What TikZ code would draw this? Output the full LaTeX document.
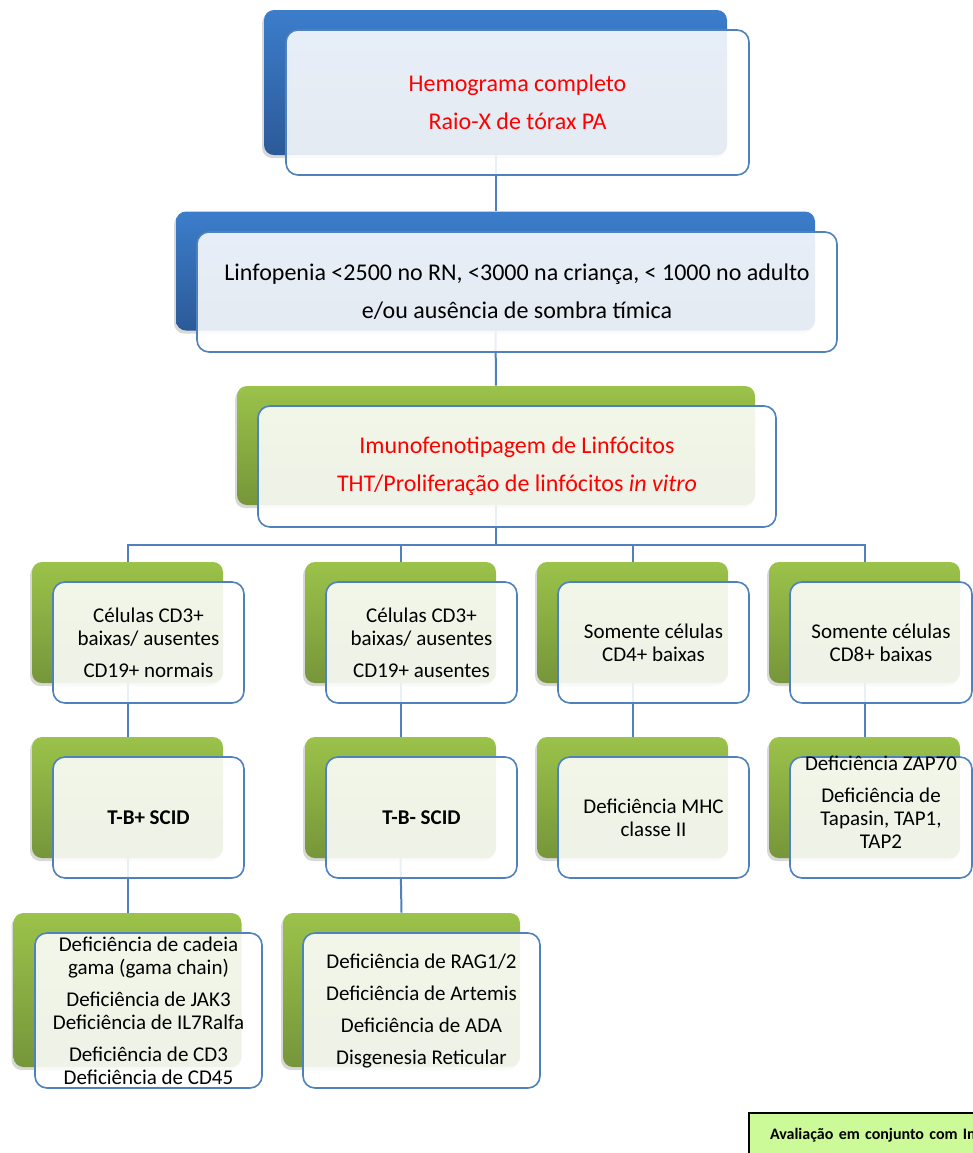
\documentclass[tikz,border=0pt]{standalone}
\usepackage{fontspec}
\setmainfont{Carlito}
\usepackage{tikz}
\usetikzlibrary{shadows,backgrounds}
\definecolor{linkblue}{HTML}{4F81BD}
\definecolor{bluetop}{HTML}{3C7DCB}
\definecolor{bluebot}{HTML}{2C5A98}
\definecolor{greentop}{HTML}{9BC24A}
\definecolor{greenbot}{HTML}{76963A}
\definecolor{notegreen}{HTML}{CCFA99}

\begin{document}
\begin{tikzpicture}[
    x=0.5pt, y=-0.5pt,
    back/.style={rectangle, rounded corners=5pt, draw=none,
                 drop shadow={shadow xshift=-1pt, shadow yshift=-1.5pt, opacity=0.3}},
    blueback/.style={back, top color=bluetop, bottom color=bluebot},
    greenback/.style={back, top color=greentop, bottom color=greenbot},
    front/.style={rectangle, rounded corners=6pt, draw=linkblue, line width=0.8pt,
                  fill=white, fill opacity=0.88, text opacity=1, align=center},
    bigtext/.style={font=\fontsize{12}{14.5}\selectfont},
    smalltext/.style={font=\fontsize{10.5}{11.5}\selectfont},
    size/.style 2 args={minimum width=#1, minimum height=#2, inner sep=0pt},
    cell/.style={size={95.5pt}{60.5pt}},
    link/.style={draw=linkblue, line width=1pt}
]
\useasboundingbox (0,0) rectangle (973,1153);

% top chain
\node[blueback, size={231.5pt}{72.5pt}] (hemoB) at (495.5,82.5) {};
\node[front, bigtext, text=red, size={231.5pt}{72.5pt}] (hemo) at (517.5,102.5)
     {Hemograma completo\\[4.5pt]Raio-X de tórax PA};

\node[blueback, size={319.5pt}{59.5pt}] (linfB) at (495.5,271) {};
\node[front, bigtext, size={320pt}{60pt}] (linf) at (517,292)
     {Linfopenia <2500 no RN, <3000 na criança, < 1000 no adulto\\[4.5pt]e/ou ausência de sombra tímica};

\node[greenback, size={259pt}{59.5pt}] (imunoB) at (496,445.5) {};
\node[front, bigtext, text=red, size={259pt}{60.5pt}] (imuno) at (517,466.5)
     {Imunofenotipagem de Linfócitos\\[4.5pt]THT/Proliferação de linfócitos \textit{in vitro}};

% first row
\node[greenback, cell] (cdnB) at (127.5,622.5) {};
\node[front, smalltext, cell] (cdn) at (148.5,642.5) {Células CD3+\\baixas/ ausentes\\[4.5pt]CD19+ normais};
\node[greenback, cell] (cdaB) at (400.5,622.5) {};
\node[front, smalltext, cell] (cda) at (421.5,642.5) {Células CD3+\\baixas/ ausentes\\[4.5pt]CD19+ ausentes};
\node[greenback, cell] (cdqB) at (632.5,622.5) {};
\node[front, smalltext, cell] (cdq) at (653.5,642.5) {Somente células\\CD4+ baixas};
\node[greenback, cell] (cdoB) at (864.5,622.5) {};
\node[front, smalltext, cell, minimum width=91pt] (cdo) at (881,642.5) {Somente células\\CD8+ baixas};

% second row
\node[greenback, cell] (tbpB) at (127.5,797.5) {};
\node[front, smalltext, cell] (tbp) at (148.5,817.5) {\textbf{T-B+ SCID}};
\node[greenback, cell] (tbmB) at (400.5,797.5) {};
\node[front, smalltext, cell] (tbm) at (421.5,817.5) {\textbf{T-B- SCID}};
\node[greenback, cell] (mhcB) at (632.5,797.5) {};
\node[front, smalltext, cell] (mhc) at (653.5,817.5) {Deficiência MHC\\classe II};
\node[greenback, cell] (zapB) at (864.5,797.5) {};
\node[front, cell, minimum width=91pt] (zap) at (881,817.5) {};
\node[smalltext, align=center, inner sep=0pt] (zaptxt) at ([yshift=7.75pt]zap.center)
     {Deficiência ZAP70\\[4.5pt]Deficiência de\\Tapasin, TAP1,\\TAP2};

% third row
\node[greenback, size={114pt}{77pt}] (gamaB) at (127.5,990) {};
\node[front, smalltext, size={113.5pt}{77.5pt}] (gama) at (148.5,1010.5)
     {Deficiência de cadeia\\gama (gama chain)\\[4.5pt]Deficiência de JAK3\\Deficiência de IL7Ralfa\\[4.5pt]Deficiência de CD3\\Deficiência de CD45};
\node[greenback, size={118.5pt}{77pt}] (ragB) at (401.5,990) {};
\node[front, smalltext, size={118.5pt}{77.5pt}] (rag) at (421.5,1010.5)
     {Deficiência de RAG1/2\\[4.5pt]Deficiência de Artemis\\[4.5pt]Deficiência de ADA\\[4.5pt]Disgenesia Reticular};

% note
\node[draw=black, line width=1pt, fill=notegreen, anchor=north west,
      text width=180pt, align=left, inner xsep=10.5pt, inner ysep=7pt,
      text height=6pt, text depth=2pt, font=\fontsize{8}{9.5}\selectfont\bfseries]
     (nota) at (748,1112) {Avaliação em conjunto com Im};

\begin{scope}[on background layer]
\fill[white] (0,0) rectangle (973,1153);
\draw[link] (hemoB.south) -- (linfB.north);
\draw[link] (linfB.south) -- (imunoB.north);
\coordinate (split) at (496,545);
\draw[link] (imunoB.south) -- (split);
\foreach \col in {cdnB, cdaB, cdqB, cdoB}
    \draw[link] (split) -| (\col.north);
\draw[link] (cdnB.south) -- (tbpB.north);
\draw[link] (cdaB.south) -- (tbmB.north);
\draw[link] (cdqB.south) -- (mhcB.north);
\draw[link] (cdoB.south) -- (zapB.north);
\draw[link] (tbpB.south) -- (gamaB.north);
\draw[link] (tbmB.south) -- (ragB.north);
\end{scope}
\end{tikzpicture}
\end{document}
